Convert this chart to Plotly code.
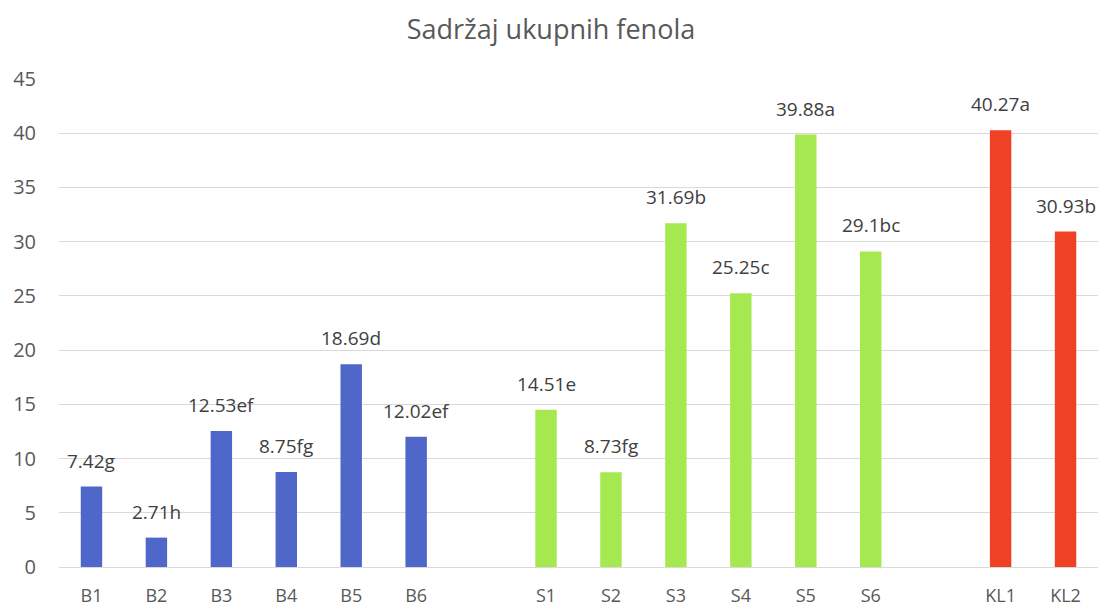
import plotly.graph_objects as go

categories = ["B1", "B2", "B3", "B4", "B5", "B6", "gap1",
              "S1", "S2", "S3", "S4", "S5", "S6", "gap2", "KL1", "KL2"]
tick_labels = ["B1", "B2", "B3", "B4", "B5", "B6", "",
               "S1", "S2", "S3", "S4", "S5", "S6", "", "KL1", "KL2"]

b_names = ["B1", "B2", "B3", "B4", "B5", "B6"]
b_values = [7.42, 2.71, 12.53, 8.75, 18.69, 12.02]
b_letters = ["g", "h", "ef", "fg", "d", "ef"]

s_names = ["S1", "S2", "S3", "S4", "S5", "S6"]
s_values = [14.51, 8.73, 31.69, 25.25, 39.88, 29.1]
s_letters = ["e", "fg", "b", "c", "a", "bc"]

kl_names = ["KL1", "KL2"]
kl_values = [40.27, 30.93]
kl_letters = ["a", "b"]

FONT = "Open Sans"
TXT = "#404040"

fig = go.Figure()
groups = [
    (b_names, b_values, b_letters, "#4F67C8"),
    (s_names, s_values, s_letters, "#A6E84F"),
    (kl_names, kl_values, kl_letters, "#EF4123"),
]
for names, vals, letters, color in groups:
    fig.add_trace(go.Bar(x=names, y=vals, marker=dict(color=color, line=dict(width=0)),
                         width=0.33, showlegend=False, hoverinfo="x+y"))
    for n, v, l in zip(names, vals, letters):
        fig.add_annotation(x=n, y=v, text=f"{v:g}{l}", showarrow=False,
                           yanchor="bottom", yshift=11,
                           font=dict(family=FONT, size=19, color=TXT))

fig.update_layout(
    width=1102, height=608,
    margin=dict(l=59, r=4, t=79, b=41, autoexpand=False),
    paper_bgcolor="white", plot_bgcolor="white",
    title=dict(text="Sadržaj ukupnih fenola", x=0.5, xanchor="center",
               y=1 - 30 / 608, yanchor="middle",
               font=dict(family=FONT, size=27, color="#595959")),
    barmode="overlay",
    font=dict(family=FONT, color="#595959"),
)
fig.update_xaxes(type="category", categoryorder="array", categoryarray=categories,
                 tickmode="array", tickvals=categories, ticktext=tick_labels,
                 tickfont=dict(family=FONT, size=18, color="#595959"),
                 showgrid=False, showline=False, ticks="", ticklen=0,
                 ticklabelstandoff=16,
                 range=[-0.5, len(categories) - 0.5])
fig.update_yaxes(range=[0, 45], dtick=5, tick0=0,
                 showgrid=True, gridcolor="#D9D9D9", gridwidth=1.3,
                 zeroline=True, zerolinecolor="#D9D9D9", zerolinewidth=1.3,
                 showline=False, ticks="", ticklabelstandoff=22,
                 tickfont=dict(family=FONT, size=20, color="#595959"))

fig.write_html("out.html", config={"displayModeBar": False},
               post_script="document.body.style.margin='0';document.body.style.overflow='hidden';")
